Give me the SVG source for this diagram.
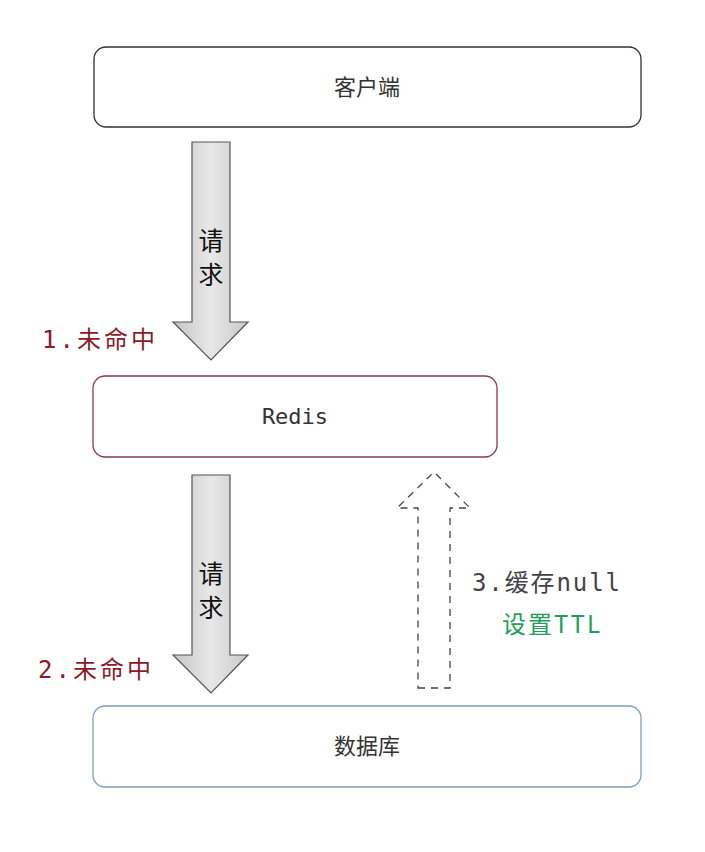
<svg xmlns="http://www.w3.org/2000/svg" width="705" height="852" viewBox="0 0 705 852">
<defs>
<linearGradient id="g" x1="0" y1="0" x2="1" y2="0"><stop offset="0" stop-color="#c4c4c4"/><stop offset="0.5" stop-color="#e8e8e8"/><stop offset="1" stop-color="#c8c8c8"/></linearGradient>
</defs>
<style>
.box{fill:#fff;stroke-width:1.3}
.t{font-family:"Noto Sans CJK SC","Liberation Sans",sans-serif;font-size:22px;fill:#333;text-anchor:middle}
.m{font-family:"DejaVu Sans Mono","Noto Sans CJK SC",monospace;font-size:22px}
.red{fill:#8b1a2b;font-family:"DejaVu Sans Mono","Noto Sans CJK SC",monospace;font-size:24px}
.big{fill:url(#g);stroke:#555;stroke-width:1.2}
</style>
<rect width="705" height="852" fill="#fff"/>
<g id="client"><rect class="box" x="94" y="47" width="547" height="80" rx="12" stroke="#333"/><text class="t" x="367" y="95">客户端</text></g>
<g id="redis"><rect class="box" x="93" y="376" width="404" height="81" rx="12" stroke="#8b3a4a"/><text class="t m" x="295" y="424">Redis</text></g>
<g id="db"><rect class="box" x="93" y="706" width="548" height="81" rx="12" stroke="#7a9fc4"/><text class="t" x="367" y="754">数据库</text></g>
<g id="connectors">
<path class="big" d="M192 142H230V322H248L211 360L173 322H192Z"/>
<text class="t" x="211" y="250" style="font-size:25px;fill:#111">请</text>
<text class="t" x="211" y="284" style="font-size:25px;fill:#111">求</text>
<path class="big" d="M192 475H230V655H248L211 693L173 655H192Z"/>
<text class="t" x="211" y="583" style="font-size:25px;fill:#111">请</text>
<text class="t" x="211" y="617" style="font-size:25px;fill:#111">求</text>
<path d="M418 688H450V508H470L434 472L397 508H418Z" fill="none" stroke="#444" stroke-width="1.3" stroke-dasharray="7,6"/>
</g>
<text class="red" x="42" y="348" textLength="113">1.未命中</text>
<text class="red" x="38" y="678" textLength="113">2.未命中</text>
<text class="m" x="472" y="591" fill="#444" style="font-size:24px" textLength="148">3.缓存null</text>
<text x="502" y="633" fill="#1e9e5a" style="font-family:'Noto Sans CJK SC','DejaVu Sans',sans-serif;font-size:24px" textLength="98">设置TTL</text>
</svg>
